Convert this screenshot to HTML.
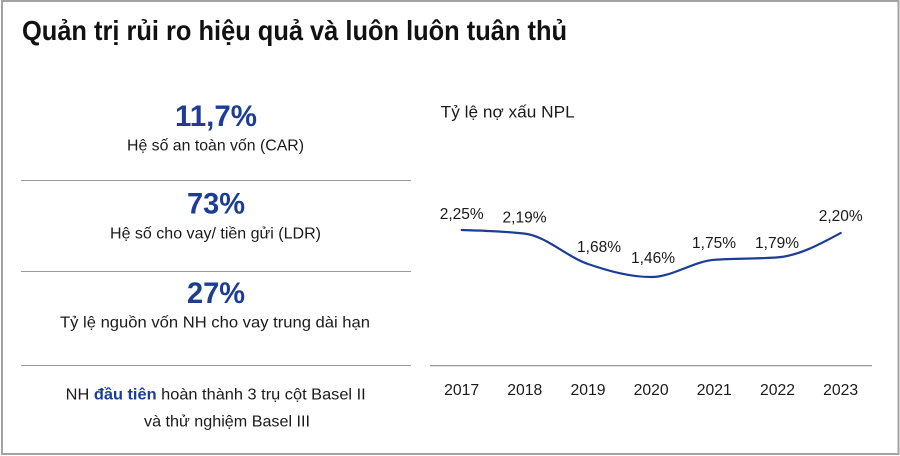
<!DOCTYPE html>
<html><head><meta charset="utf-8">
<style>
html,body{margin:0;padding:0;background:#fff;}
svg{display:block;}
text{font-family:"Liberation Sans","DejaVu Sans",sans-serif;}
</style></head>
<body>
<svg width="900" height="456" viewBox="0 0 900 456" xmlns="http://www.w3.org/2000/svg">
<rect x="0" y="0" width="900" height="456" fill="#fff"/>
<rect x="2" y="1" width="896.5" height="453" fill="none" stroke="#a3a3a3" stroke-width="2"/>

<text x="22" y="40" font-size="28" font-weight="bold" fill="#111" textLength="545" lengthAdjust="spacingAndGlyphs">Quản trị rủi ro hiệu quả và luôn luôn tuân thủ</text>

<!-- left panel -->
<text x="216" y="126" font-size="30" font-weight="bold" fill="#1c3d96" text-anchor="middle" textLength="82" lengthAdjust="spacingAndGlyphs">11,7%</text>
<text x="215.5" y="150.5" font-size="16" fill="#1a1a1a" text-anchor="middle" textLength="177" lengthAdjust="spacingAndGlyphs">Hệ số an toàn vốn (CAR)</text>
<line x1="21" y1="180.5" x2="411" y2="180.5" stroke="#9a9a9a" stroke-width="1"/>

<text x="216" y="213.3" font-size="30" font-weight="bold" fill="#1c3d96" text-anchor="middle" textLength="58" lengthAdjust="spacingAndGlyphs">73%</text>
<text x="215.5" y="238.3" font-size="16" fill="#1a1a1a" text-anchor="middle" textLength="211" lengthAdjust="spacingAndGlyphs">Hệ số cho vay/ tiền gửi (LDR)</text>
<line x1="21" y1="271.5" x2="411" y2="271.5" stroke="#9a9a9a" stroke-width="1"/>

<text x="216" y="303" font-size="30" font-weight="bold" fill="#1c3d96" text-anchor="middle" textLength="58" lengthAdjust="spacingAndGlyphs">27%</text>
<text x="215" y="327.7" font-size="16" fill="#1a1a1a" text-anchor="middle" textLength="310" lengthAdjust="spacingAndGlyphs">Tỷ lệ nguồn vốn NH cho vay trung dài hạn</text>
<line x1="21" y1="365.5" x2="411" y2="365.5" stroke="#9a9a9a" stroke-width="1"/>

<text x="215.7" y="399.3" font-size="16" fill="#1a1a1a" text-anchor="middle" textLength="300" lengthAdjust="spacingAndGlyphs">NH <tspan fill="#1c3d96" font-weight="bold">đầu tiên</tspan> hoàn thành 3 trụ cột Basel II</text>
<text x="227" y="426.7" font-size="16" fill="#1a1a1a" text-anchor="middle" textLength="166" lengthAdjust="spacingAndGlyphs">và thử nghiệm Basel III</text>

<!-- right panel -->
<text x="440.7" y="117.3" font-size="17" fill="#1a1a1a" textLength="134" lengthAdjust="spacingAndGlyphs">Tỷ lệ nợ xấu NPL</text>

<path d="M461.7,230 C482.8,230.6 503.7,231.2 524.8,233.6 C545.9,236.0 566.9,256.8 588,264 C609.1,271.2 630.1,277 651.2,277 C672.3,277 693.2,261.4 714.3,259.8 C735.4,258.2 756.4,259.0 777.5,257.4 C798.6,255.8 819.6,244.4 840.7,233" fill="none" stroke="#1c3d96" stroke-width="2.2" stroke-linecap="round"/>

<g font-size="15.5" fill="#1a1a1a" text-anchor="middle">
<text x="461.7" y="219" textLength="44" lengthAdjust="spacingAndGlyphs">2,25%</text>
<text x="524.5" y="222.7" textLength="44" lengthAdjust="spacingAndGlyphs">2,19%</text>
<text x="599" y="252" textLength="44" lengthAdjust="spacingAndGlyphs">1,68%</text>
<text x="653" y="263" textLength="44" lengthAdjust="spacingAndGlyphs">1,46%</text>
<text x="714" y="248" textLength="44" lengthAdjust="spacingAndGlyphs">1,75%</text>
<text x="777" y="248" textLength="44" lengthAdjust="spacingAndGlyphs">1,79%</text>
<text x="840.7" y="221" textLength="44" lengthAdjust="spacingAndGlyphs">2,20%</text>
</g>

<line x1="430" y1="365.7" x2="872" y2="365.7" stroke="#8a8a8a" stroke-width="1.2"/>

<g font-size="15.5" fill="#1a1a1a" text-anchor="middle">
<text x="461.7" y="395" textLength="35" lengthAdjust="spacingAndGlyphs">2017</text>
<text x="524.8" y="395" textLength="35" lengthAdjust="spacingAndGlyphs">2018</text>
<text x="588" y="395" textLength="35" lengthAdjust="spacingAndGlyphs">2019</text>
<text x="651.2" y="395" textLength="35" lengthAdjust="spacingAndGlyphs">2020</text>
<text x="714.3" y="395" textLength="35" lengthAdjust="spacingAndGlyphs">2021</text>
<text x="777.5" y="395" textLength="35" lengthAdjust="spacingAndGlyphs">2022</text>
<text x="840.7" y="395" textLength="35" lengthAdjust="spacingAndGlyphs">2023</text>
</g>
</svg>
</body></html>
